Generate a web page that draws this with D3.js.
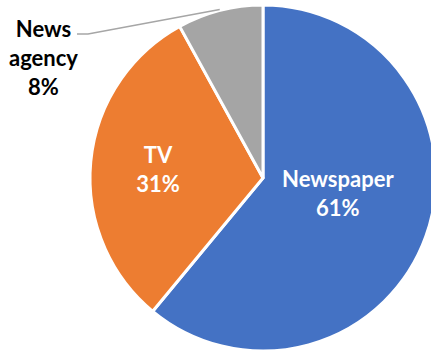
<!DOCTYPE html>
<html>
<head>
<meta charset="utf-8">
<script src="https://cdn.jsdelivr.net/npm/d3@7"></script>
<style>
  html, body { margin: 0; padding: 0; background: #fff; }
  svg { display: block; }
  text { font-family: Lato, "Open Sans", sans-serif; font-weight: 700; }
</style>
</head>
<body>
<svg id="chart" width="431" height="352"></svg>
<script>
// Share of news sources
const categories = ["Newspaper", "TV", "News agency"];
const shares = [61, 31, 8];
const colors = ["#4472C4", "#ED7D31", "#A5A5A5"];

const width = 431, height = 352;
const cx = 263, cy = 178, radius = 173;
const fontSize = 22, lineGap = 29;

const svg = d3.select("#chart");
const g = svg.append("g").attr("transform", `translate(${cx},${cy})`);

const pie = d3.pie().sort(null).value(d => d.value);
const arcs = pie(categories.map((c, i) => ({ name: c, value: shares[i], color: colors[i] })));

const arc = d3.arc().innerRadius(0).outerRadius(radius);

g.selectAll("path.slice")
  .data(arcs)
  .join("path")
  .attr("class", "slice")
  .attr("d", arc)
  .attr("fill", d => d.data.color)
  .attr("stroke", "#fff")
  .attr("stroke-width", 3)
  .attr("stroke-linejoin", "miter");

// inside labels sit at a per-slice fraction of the radius along the mid angle,
// with a small vertical nudge
const insideLayout = {
  "Newspaper": { r: 0.46, dy: -11 },
  "TV": { r: 0.61, dy: 1 }
};
const midAngle = d => (d.startAngle + d.endAngle) / 2;

function drawLabel(lines, x, yCenter, fill, anchor) {
  const n = lines.length;
  const capH = fontSize * 0.72;
  // block spans from first cap top to last baseline
  const blockH = capH + (n - 1) * lineGap;
  const firstBase = yCenter - blockH / 2 + capH;
  const t = g.append("text")
    .attr("text-anchor", anchor)
    .attr("fill", fill)
    .attr("font-size", fontSize);
  lines.forEach((s, i) => {
    t.append("tspan").attr("x", x).attr("y", firstBase + i * lineGap).text(s);
  });
}

arcs.forEach(d => {
  const a = midAngle(d);
  const lay = insideLayout[d.data.name];
  if (lay) {
    const r = lay.r * radius;
    const x = Math.sin(a) * r, y = -Math.cos(a) * r + lay.dy;
    drawLabel([d.data.name, d.data.value + "%"], x, y, "#fff", "middle");
  }
});

// outside label with leader line for the small slice
const small = arcs[2];
const a2 = midAngle(small);
const p0 = [Math.sin(a2) * (radius + 1), -Math.cos(a2) * (radius + 1)];
const elbow = [-175, -144];
const end = [elbow[0] - 11, elbow[1]];
g.append("polyline")
  .attr("points", [p0, elbow, end].map(p => p.join(",")).join(" "))
  .attr("fill", "none")
  .attr("stroke", "#A6A6A6")
  .attr("stroke-width", 1.5);

drawLabel(["News", "agency", small.data.value + "%"], -219.5, -120, "#000", "middle");
</script>
</body>
</html>
